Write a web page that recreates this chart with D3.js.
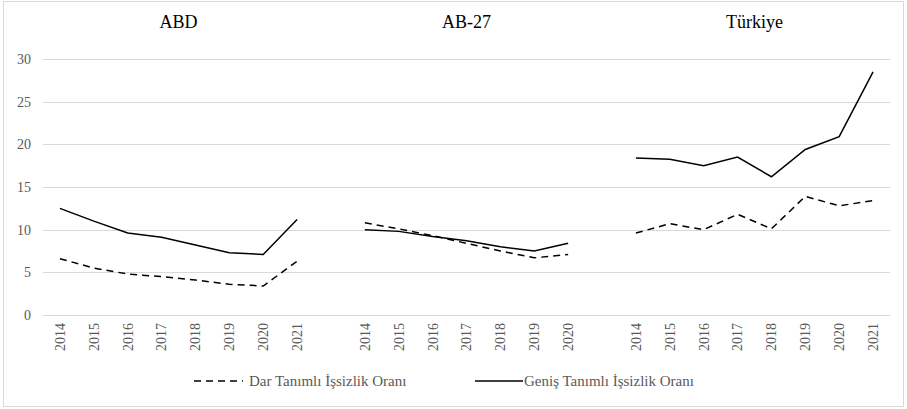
<!DOCTYPE html>
<html>
<head>
<meta charset="utf-8">
<script src="https://cdn.jsdelivr.net/npm/d3@7"></script>
</head>
<body style="margin:0;background:#fff">
<div id="chart"></div>
<script>
// Panels and their years
var groups   = ["ABD", "AB-27", "Türkiye"];
var yearsABD = [2014, 2015, 2016, 2017, 2018, 2019, 2020, 2021];
var yearsAB  = [2014, 2015, 2016, 2017, 2018, 2019, 2020];
var yearsTR  = [2014, 2015, 2016, 2017, 2018, 2019, 2020, 2021];

// Dar tanımlı (dashed) and geniş tanımlı (solid) rates
var narrowABD = [6.6, 5.5, 4.8, 4.5, 4.1, 3.6, 3.4, 6.3];
var broadABD  = [12.5, 11.0, 9.6, 9.1, 8.2, 7.3, 7.1, 11.2];
var narrowAB  = [10.8, 10.1, 9.3, 8.4, 7.5, 6.7, 7.1];
var broadAB   = [10.0, 9.8, 9.2, 8.7, 8.0, 7.5, 8.4];
var narrowTR  = [9.6, 10.7, 10.0, 11.8, 10.1, 13.9, 12.8, 13.4];
var broadTR   = [18.4, 18.25, 17.5, 18.5, 16.2, 19.4, 20.9, 28.5];

var yTicks = [0, 5, 10, 15, 20, 25, 30];
var legendLabels = ["Dar Tanımlı İşsizlik Oranı", "Geniş Tanımlı İşsizlik Oranı"];

var FONT = "Liberation Serif";

var panels = [
  { name: groups[0], years: yearsABD, narrow: narrowABD, broad: broadABD },
  { name: groups[1], years: yearsAB,  narrow: narrowAB,  broad: broadAB },
  { name: groups[2], years: yearsTR,  narrow: narrowTR,  broad: broadTR }
];

var W = 907, H = 409,
    margin = { top: 59, right: 17, bottom: 94, left: 43 },
    width  = W - margin.left - margin.right,
    height = H - margin.top - margin.bottom;

// One category axis with a blank slot between the panels
var domain = [];
panels.forEach(function(p, i) {
  if (i > 0) domain.push("gap" + i);
  p.years.forEach(function(y) { domain.push(p.name + "|" + y); });
});

var x = d3.scaleBand().domain(domain).range([0, width]).padding(0);
var y = d3.scaleLinear().domain([0, 30]).range([height, 0]);
var cx = function(k) { return x(k) + x.bandwidth() / 2; };

var svg = d3.select("#chart").append("svg")
    .attr("width", W)
    .attr("height", H)
    .attr("font-family", FONT);

// Outer frame
svg.append("rect")
  .attr("x", 3.5).attr("y", 1.5)
  .attr("width", W - 7).attr("height", H - 4)
  .attr("fill", "none")
  .attr("stroke", "#d9d9d9");

var g = svg.append("g")
    .attr("transform", "translate(" + margin.left + "," + margin.top + ")");

// Gridlines
g.append("g").selectAll("line")
    .data(yTicks)
  .enter().append("line")
    .attr("x1", 0).attr("x2", width)
    .attr("y1", function(d) { return Math.round(y(d)) + 0.5; })
    .attr("y2", function(d) { return Math.round(y(d)) + 0.5; })
    .attr("stroke", "#d9d9d9")
    .attr("stroke-width", 1);

// Y axis labels
var yAxis = d3.axisLeft(y).tickValues(yTicks).tickSize(0).tickPadding(12);
var ya = g.append("g").call(yAxis)
    .attr("font-family", FONT)
    .attr("font-size", 14);
ya.select(".domain").remove();
ya.selectAll("text")
  .attr("fill", "#595959")
  .attr("font-family", FONT);

// X axis labels (rotated years)
var xAxis = d3.axisBottom(x)
    .tickValues(domain.filter(function(k) { return k.indexOf("|") > 0; }))
    .tickFormat(function(k) { return k.split("|")[1]; })
    .tickSize(0);
var xa = g.append("g").attr("transform", "translate(0," + height + ")").call(xAxis)
    .attr("font-family", FONT)
    .attr("font-size", 14);
xa.select(".domain").remove();
xa.selectAll("text")
  .attr("transform", "rotate(-90)")
  .attr("text-anchor", "end")
  .attr("dy", "0.35em")
  .attr("x", -8)
  .attr("y", 0)
  .attr("fill", "#595959")
  .attr("font-family", FONT);

// Lines
var line = d3.line()
  .x(function(d) { return cx(d.key); })
  .y(function(d) { return y(d.value); });

panels.forEach(function(p) {
  var narrow = p.years.map(function(yr, i) { return { key: p.name + "|" + yr, value: p.narrow[i] }; });
  var broad  = p.years.map(function(yr, i) { return { key: p.name + "|" + yr, value: p.broad[i] }; });

  g.append("path").datum(narrow)
    .attr("d", line)
    .attr("fill", "none")
    .attr("stroke", "#000")
    .attr("stroke-width", 1.5)
    .attr("stroke-dasharray", "7,5");

  g.append("path").datum(broad)
    .attr("d", line)
    .attr("fill", "none")
    .attr("stroke", "#000")
    .attr("stroke-width", 1.5);

  // Panel title centred over its years
  var first = p.name + "|" + p.years[0],
      last  = p.name + "|" + p.years[p.years.length - 1];
  g.append("text")
    .attr("x", (cx(first) + cx(last)) / 2)
    .attr("y", -31)
    .attr("text-anchor", "middle")
    .attr("font-size", 18)
    .attr("font-family", FONT)
    .attr("fill", "#000")
    .text(p.name);
});

// Legend
var legend = svg.append("g").attr("transform", "translate(0,381)");
legend.append("line")
  .attr("x1", 194).attr("x2", 243).attr("y1", 0).attr("y2", 0)
  .attr("stroke", "#000").attr("stroke-width", 1.5)
  .attr("stroke-dasharray", "7,5");
legend.append("text")
  .attr("x", 249).attr("y", 0).attr("dy", "0.35em")
  .attr("font-size", 15).attr("fill", "#595959")
  .attr("font-family", FONT)
  .text(legendLabels[0]);
legend.append("line")
  .attr("x1", 475).attr("x2", 523).attr("y1", 0).attr("y2", 0)
  .attr("stroke", "#000").attr("stroke-width", 1.5);
legend.append("text")
  .attr("x", 524).attr("y", 0).attr("dy", "0.35em")
  .attr("font-size", 15).attr("fill", "#595959")
  .attr("font-family", FONT)
  .text(legendLabels[1]);
</script>
</body>
</html>
